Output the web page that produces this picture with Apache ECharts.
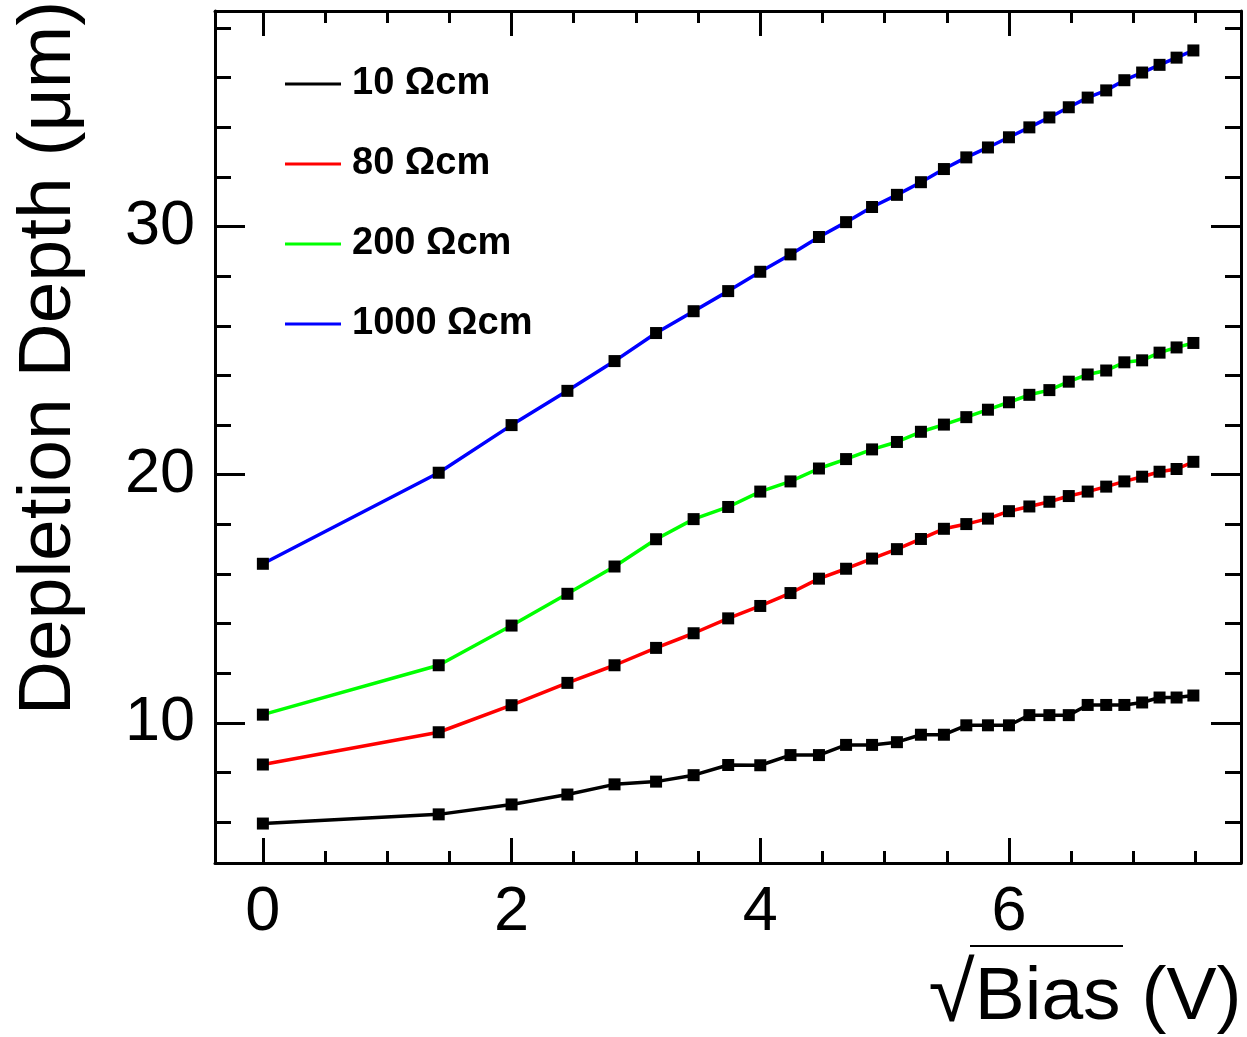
<!DOCTYPE html>
<html>
<head>
<meta charset="utf-8">
<script src="https://cdn.jsdelivr.net/npm/echarts@6/dist/echarts.min.js"></script>
<style>
  html, body { margin: 0; padding: 0; background: #fff; }
  #chart { width: 1247px; height: 1037px; }
</style>
</head>
<body>
<div id="chart"></div>
<script>
// sqrt(Bias) values (V^0.5)
const sqrtBias = [0, 1.414, 2.000, 2.449, 2.828, 3.162, 3.464, 3.742, 4.000, 4.243,
  4.472, 4.690, 4.899, 5.099, 5.292, 5.477, 5.657, 5.831, 6.000, 6.164,
  6.325, 6.481, 6.633, 6.782, 6.928, 7.071, 7.211, 7.348, 7.483];

const depth10 = [5.94, 6.31, 6.71, 7.11, 7.52, 7.63, 7.89, 8.30, 8.29, 8.70,
  8.70, 9.11, 9.11, 9.22, 9.52, 9.52, 9.90, 9.90, 9.90, 10.31,
  10.31, 10.31, 10.72, 10.72, 10.72, 10.82, 11.02, 11.02, 11.10];

const depth80 = [8.32, 9.62, 10.71, 11.61, 12.32, 13.02, 13.61, 14.21, 14.71, 15.23,
  15.81, 16.21, 16.62, 17.00, 17.41, 17.82, 18.01, 18.23, 18.53, 18.72,
  18.91, 19.14, 19.32, 19.52, 19.73, 19.92, 20.12, 20.23, 20.52];

const depth200 = [10.33, 12.32, 13.92, 15.20, 16.30, 17.40, 18.21, 18.70, 19.32, 19.73,
  20.25, 20.63, 21.02, 21.32, 21.73, 22.02, 22.32, 22.62, 22.92, 23.22,
  23.41, 23.75, 24.04, 24.20, 24.53, 24.61, 24.92, 25.13, 25.31];

const depth1000 = [16.41, 20.08, 22.00, 23.38, 24.58, 25.71, 26.59, 27.40, 28.18, 28.88,
  29.58, 30.18, 30.79, 31.28, 31.79, 32.32, 32.79, 33.19, 33.60, 34.00,
  34.40, 34.81, 35.20, 35.49, 35.90, 36.21, 36.52, 36.81, 37.10];

const seriesNames = ['10 \u03A9cm', '80 \u03A9cm', '200 \u03A9cm', '1000 \u03A9cm'];
const seriesColors = ['#000000', '#ff0000', '#00ff00', '#0000ff'];
const seriesValues = [depth10, depth80, depth200, depth1000];

const xTitle = '{r|\u221A}{t|Bias (V)}';
const yTitle = 'Depletion Depth (\u03BCm)';

const FONT = "'Liberation Sans', Arial, Helvetica, sans-serif";
const chart = echarts.init(document.getElementById('chart'), null, { renderer: 'canvas' });

const intLabel = v => (Math.abs(v - Math.round(v)) < 1e-6 ? String(Math.round(v)) : '');
const XMIN = -0.385, XMAX = 7.866, YMIN = 4.35, YMAX = 38.69;

const lineSty = { color: '#000', width: 3 };

function xAxisCfg(pos) {
  const bottom = pos === 'bottom';
  return {
    type: 'value', position: pos, min: XMIN, max: XMAX, splitNumber: 5,
    axisLine: { show: true, onZero: false, lineStyle: lineSty },
    axisTick: { show: true, inside: true, length: 25, lineStyle: lineSty },
    minorTick: { show: true, splitNumber: 4, length: 12, lineStyle: lineSty },
    axisLabel: { show: bottom, fontSize: 63, color: '#000', fontFamily: FONT, margin: 18,
      formatter: intLabel, showMinLabel: false, showMaxLabel: false },
    splitLine: { show: false }, minorSplitLine: { show: false },
    name: bottom ? xTitle : '',
    nameLocation: 'middle', nameGap: 93,
    nameTruncate: { maxWidth: 2000 },
    nameTextStyle: {
      padding: [0, 0, 0, 714],
      color: '#000', fontFamily: FONT,
      rich: {
        r: { fontSize: 84, fontFamily: FONT, color: '#000' },
        t: { fontSize: 75, fontFamily: FONT, color: '#000' }
      }
    }
  };
}
function yAxisCfg(pos) {
  const left = pos === 'left';
  return {
    type: 'value', position: pos, min: YMIN, max: YMAX, splitNumber: 3,
    axisLine: { show: true, onZero: false, lineStyle: lineSty },
    axisTick: { show: true, inside: true, length: 30, lineStyle: lineSty },
    minorTick: { show: true, splitNumber: 5, length: 16, lineStyle: lineSty },
    axisLabel: { show: left, fontSize: 63, color: '#000', fontFamily: FONT, margin: 20,
      formatter: intLabel, showMinLabel: false, showMaxLabel: false },
    splitLine: { show: false }, minorSplitLine: { show: false },
    name: left ? yTitle : '',
    nameLocation: 'middle', nameRotate: 90, nameGap: 128,
    nameTextStyle: { fontSize: 75, color: '#000', fontFamily: FONT, padding: [0, 0, 0, 158] }
  };
}

const series = seriesNames.map((name, i) => ({
  name: name,
  type: 'line',
  xAxisIndex: 0, yAxisIndex: 0,
  data: sqrtBias.map((x, k) => [x, seriesValues[i][k]]),
  symbol: 'rect', symbolSize: 12,
  itemStyle: { color: '#000' },
  lineStyle: { color: seriesColors[i], width: 3.5 },
  emphasis: { disabled: true },
  z: 3 + i
}));

chart.setOption({
  animation: false,
  backgroundColor: '#fff',
  textStyle: { fontFamily: FONT },
  grid: { left: 215, right: 6, top: 11, bottom: 174, containLabel: false, outerBoundsMode: 'none', show: false },
  legend: {
    orient: 'vertical', left: 285, top: 64, padding: 0,
    itemWidth: 56, itemHeight: 3, itemGap: 40, icon: 'rect',
    selectedMode: false,
    textStyle: { fontSize: 38, fontWeight: 'bold', color: '#000', fontFamily: FONT, lineHeight: 40, padding: [0, 0, 0, 6] },
    data: seriesNames.map((n, i) => ({ name: n, icon: 'rect', itemStyle: { color: seriesColors[i] } }))
  },
  xAxis: [xAxisCfg('bottom'), xAxisCfg('top')],
  yAxis: [yAxisCfg('left'), yAxisCfg('right')],
  graphic: [
    { type: 'line', z: 100, shape: { x1: 970, y1: 946, x2: 1123, y2: 946 }, style: { stroke: '#000', lineWidth: 2 } }
  ],
  series: series
});
</script>
</body>
</html>
